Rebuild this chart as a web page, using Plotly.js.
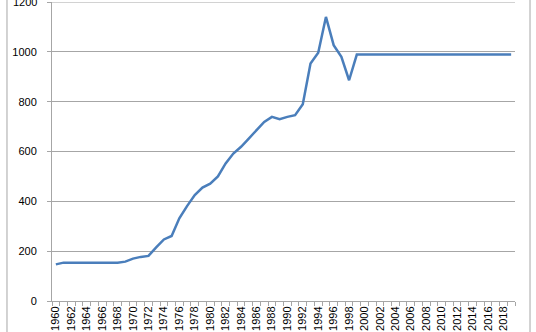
<!DOCTYPE html>
<html><head><meta charset="utf-8">
<script src="https://cdn.plot.ly/plotly-3.0.1.min.js"></script>
<style>html,body{margin:0;padding:0;background:#fff}#c{width:536px;height:332px}</style>
</head><body><div id="c"></div>
<script>
const years = [];
for (let y = 1960; y <= 2019; y++) years.push(y);
const values = [
  147, 154, 154, 154, 154, 154, 154, 154, 154, 158,
  170, 177, 181, 215, 247, 261, 332, 381, 425, 455,
  471, 500, 552, 592, 619, 652, 686, 719, 739, 730,
  739, 746, 790, 953, 996, 1140, 1027, 980, 886, 989,
  989, 989, 989, 989, 989, 989, 989, 989, 989, 989,
  989, 989, 989, 989, 989, 989, 989, 989, 989, 989
];
const labelYears = years.filter(y => y % 2 === 0);
const labelText = labelYears.map(String);
const yTicks = [0, 200, 400, 600, 800, 1000, 1200];
const yMax = 1200;

const grey = '#a6a6a6';
Plotly.newPlot('c', [{
  x: years, y: values, type: 'scatter', mode: 'lines',
  line: {color: '#4a7ebb', width: 2.5}, hoverinfo: 'none'
}], {
  width: 536, height: 332,
  margin: {l: 52, r: 21, t: 2, b: 31, pad: 0},
  paper_bgcolor: '#fff', plot_bgcolor: '#fff',
  showlegend: false,
  font: {family: 'Liberation Sans, Arial, sans-serif', size: 11, color: '#000'},
  xaxis: {
    range: [1959.5, 2019.5], tickmode: 'array', tickvals: labelYears, ticktext: labelText,
    tickangle: -90, ticks: '', showgrid: false, zeroline: false,
    showline: true, linecolor: grey, linewidth: 1,
    minor: {tick0: 1959.5, dtick: 1, ticks: 'outside', ticklen: 4, tickcolor: grey, showgrid: false},
    tickfont: {size: 11}
  },
  yaxis: {
    range: [0, yMax], tickmode: 'array', tickvals: yTicks,
    ticks: 'outside', ticklen: 4, tickcolor: grey,
    showgrid: true, gridcolor: grey, gridwidth: 1, zeroline: false,
    showline: true, linecolor: grey, linewidth: 1,
    ticklabelstandoff: 8, tickfont: {size: 11}
  },
  annotations: [
    {xref: 'paper', yref: 'y', x: -0.028, y: yMax, text: String(yMax), showarrow: false,
     xanchor: 'right', yanchor: 'middle', font: {size: 11, color: '#000'}}
  ],
  shapes: [
    {type: 'line', xref: 'paper', yref: 'y', x0: -0.009, x1: 1, y0: yMax, y1: yMax, line: {color: grey, width: 1}},
    {type: 'line', xref: 'paper', yref: 'paper', x0: -0.0972, x1: -0.0972, y0: -0.2, y1: 1.1, line: {color: grey, width: 1}},
    {type: 'line', xref: 'paper', yref: 'paper', x0: 1.0324, x1: 1.0324, y0: -0.2, y1: 1.1, line: {color: grey, width: 1}}
  ]
}, {staticPlot: true});
</script></body></html>
